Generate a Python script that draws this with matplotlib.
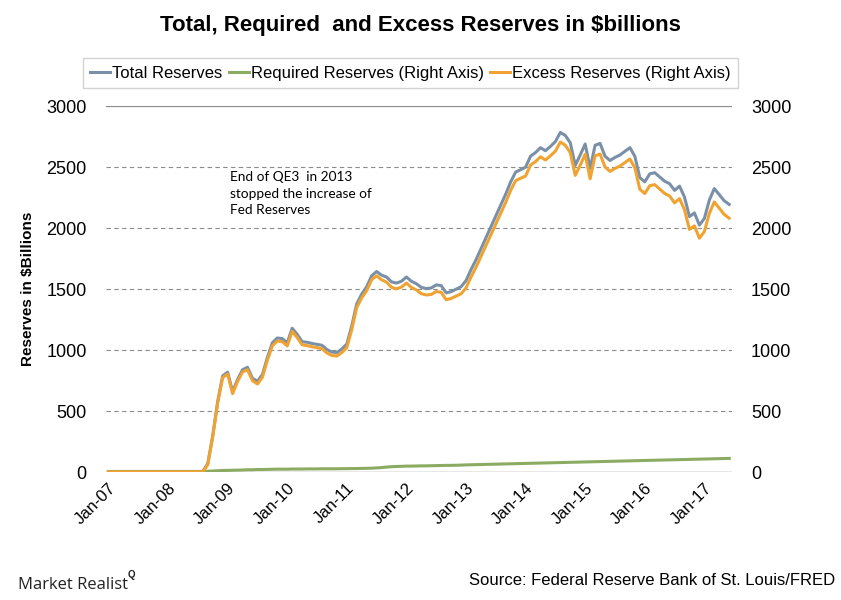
import numpy as np
import matplotlib
matplotlib.use("Agg")
import matplotlib.pyplot as plt

# Monthly data, Jan-07 .. Jun-17 ($billions)
total_reserves = [
    6, 6, 6, 6, 6, 6, 6, 6, 6, 6, 6, 6,
    6, 6, 6, 6, 6, 6, 6, 6, 70, 300, 580, 790,
    820, 660, 760, 840, 860, 770, 745, 800, 940, 1060, 1100, 1095,
    1060, 1180, 1130, 1070, 1065, 1055, 1048, 1040, 1005, 985, 980, 1010,
    1050, 1200, 1380, 1460, 1520, 1610, 1645, 1615, 1600, 1560, 1550, 1565,
    1600, 1565, 1545, 1515, 1505, 1510, 1535, 1530, 1470, 1480, 1500, 1520,
    1570, 1660, 1740, 1830, 1920, 2010, 2100, 2190, 2280, 2380, 2460, 2480,
    2500, 2590, 2620, 2660, 2635, 2670, 2710, 2785, 2760, 2700, 2515, 2600,
    2690, 2490, 2680, 2695, 2590, 2555, 2580, 2600, 2630, 2660, 2590, 2415,
    2380, 2445, 2455, 2420, 2385, 2365, 2310, 2345, 2255, 2095, 2125, 2025,
    2080, 2230, 2325, 2275, 2225, 2195,
]
required_reserves = [
    3, 3, 3, 3, 3, 3, 3, 3, 3, 3, 3, 3,
    3, 3, 3, 3, 3, 3, 3, 3, 8, 10, 12, 14,
    15, 16, 17, 18, 20, 20, 22, 22, 23, 24, 25, 25,
    25, 26, 26, 26, 27, 27, 27, 28, 28, 28, 28, 29,
    29, 30, 30, 31, 32, 33, 35, 38, 42, 45, 47, 48,
    50, 50, 51, 52, 52, 53, 54, 55, 56, 56, 57, 58,
    60, 61, 62, 63, 64, 65, 66, 67, 68, 69, 70, 71,
    72, 73, 74, 75, 76, 77, 78, 79, 80, 81, 82, 83,
    84, 85, 86, 87, 88, 89, 90, 91, 92, 93, 94, 95,
    96, 97, 98, 99, 100, 101, 102, 103, 104, 105, 106, 107,
    108, 109, 110, 111, 112, 113,
]
excess_reserves = [
    3, 3, 3, 3, 3, 3, 3, 3, 3, 3, 3, 3,
    3, 3, 3, 3, 3, 3, 3, 3, 62, 290, 568, 776,
    805, 644, 743, 822, 840, 750, 723, 778, 917, 1036, 1075, 1070,
    1035, 1154, 1104, 1044, 1038, 1028, 1021, 1012, 977, 957, 952, 981,
    1021, 1170, 1350, 1429, 1488, 1577, 1610, 1577, 1558, 1515, 1503, 1517,
    1550, 1515, 1494, 1463, 1453, 1457, 1481, 1475, 1414, 1424, 1443, 1462,
    1510, 1599, 1678, 1767, 1856, 1945, 2034, 2123, 2212, 2311, 2390, 2409,
    2428, 2517, 2546, 2585, 2559, 2593, 2632, 2706, 2680, 2619, 2433, 2517,
    2606, 2405, 2594, 2608, 2502, 2466, 2490, 2509, 2538, 2567, 2496, 2320,
    2284, 2348, 2357, 2321, 2285, 2264, 2208, 2242, 2151, 1990, 2019, 1918,
    1972, 2121, 2215, 2164, 2113, 2082,
]
tick_labels = ["Jan-07", "Jan-08", "Jan-09", "Jan-10", "Jan-11", "Jan-12",
               "Jan-13", "Jan-14", "Jan-15", "Jan-16", "Jan-17"]
y_ticks = [0, 500, 1000, 1500, 2000, 2500, 3000]

plt.rcParams["font.family"] = ["Liberation Sans", "DejaVu Sans"]

c_total = "#7a90a8"
c_req = "#8bab62"
c_exc = "#f0a330"

x = np.arange(len(total_reserves))

fig = plt.figure(figsize=(8.41, 6.0), dpi=100)
ax = fig.add_axes([0.126, 0.213, 0.744, 0.61])
ax2 = ax.twinx()

l1, = ax.plot(x, total_reserves, color=c_total, lw=2.2, label="Total Reserves")
l2, = ax2.plot(x, required_reserves, color=c_req, lw=2.2, label="Required Reserves (Right Axis)")
l3, = ax2.plot(x, excess_reserves, color=c_exc, lw=2.2, label="Excess Reserves (Right Axis)")

for a in (ax, ax2):
    a.set_ylim(0, 3000)
    a.set_xlim(-0.5, len(x) - 0.5)
    a.set_yticks(y_ticks)
    a.tick_params(length=0, labelsize=13, pad=14)
    for s in a.spines.values():
        s.set_visible(False)

for v in y_ticks[1:-1]:
    ax.axhline(v, color="#8c8c8c", lw=0.8, ls=(0, (4, 3)), zorder=0)
ax.axhline(3000, color="#8c8c8c", lw=0.9, zorder=0)
ax.axhline(0, color="#8c8c8c", lw=1.0, zorder=0)

ax.set_xticks(np.arange(0, len(x), 12))
ax.set_xticklabels(tick_labels, rotation=45, ha="right", rotation_mode="anchor", fontsize=12)
ax.tick_params(axis="x", pad=6)
ax.set_ylabel("Reserves in $Billions", fontsize=11, fontweight="bold", labelpad=8)

ax.text(0.198, 0.822, "End of QE3  in 2013\nstopped the increase of\nFed Reserves",
        transform=ax.transAxes, fontsize=9.8, family=["Lato", "DejaVu Sans"],
        va="top", ha="left", linespacing=1.45)

fig.suptitle("Total, Required  and Excess Reserves in $billions", x=0.5, y=0.975,
             fontsize=16, fontweight="bold")

leg = fig.legend(handles=[l1, l2, l3], loc="center", bbox_to_anchor=(0.488, 0.878),
                 ncol=3, frameon=True, fancybox=False, edgecolor="#c8c8c8",
                 prop={"size": 12}, handlelength=1.2,
                 handletextpad=0.1, columnspacing=0.4, borderpad=0.45)
leg.get_frame().set_linewidth(1.0)

fig.text(0.021, 0.018, "Market Realist", fontsize=12, family=["Open Sans", "DejaVu Sans"],
         color="#222222")
fig.text(0.152, 0.036, "Q", fontsize=7, fontweight="bold", color="#222222")
fig.text(0.993, 0.025, "Source: Federal Reserve Bank of St. Louis/FRED", fontsize=12,
         ha="right")

plt.savefig("out.png", dpi=100)
plt.close()
